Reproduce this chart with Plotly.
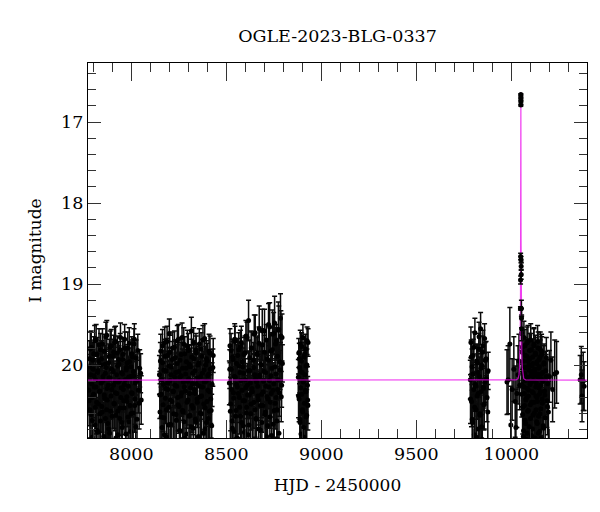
import plotly.graph_objects as go

# ---- data ----
s1_t = [7776, 7779, 7782, 7786, 7789, 7792, 7795, 7799, 7802, 7805,
        7809, 7812, 7815, 7818, 7822, 7825, 7828, 7832, 7835, 7838,
        7841, 7845, 7848, 7851, 7855, 7858, 7861, 7864, 7868, 7871,
        7874, 7878, 7881, 7884, 7887, 7891, 7894, 7897, 7901, 7904,
        7907, 7910, 7914, 7917, 7920, 7924, 7927, 7930, 7933, 7937,
        7940, 7943, 7947, 7950, 7953, 7956, 7960, 7963, 7966, 7970,
        7973, 7976, 7979, 7983, 7986, 7989, 7993, 7996, 7999, 8002,
        8006, 8009, 8012, 8016, 8019, 8023, 8028, 8034, 8041, 8049,
        7778, 7780, 7784, 7787, 7791, 7794, 7797, 7801, 7804, 7807,
        7811, 7814, 7817, 7820, 7824, 7827, 7830, 7834, 7837, 7840,
        7843, 7847, 7850, 7853, 7857, 7860, 7863, 7866, 7870, 7873,
        7876, 7880, 7883, 7886, 7889, 7893, 7896, 7899, 7903, 7906,
        7909, 7912, 7916, 7919, 7922, 7926, 7929, 7932, 7935, 7939,
        7942, 7945, 7949, 7952, 7955, 7958, 7962, 7965, 7968, 7972,
        7975, 7978, 7981, 7985, 7988, 7991, 7995, 7998, 8001, 8004,
        8008, 8011, 8014, 8018, 8021, 8025, 8030, 8037, 8044, 8052]
s1_m = [20.31, 19.92, 20.55, 20.12, 19.78, 20.40, 20.68, 20.05, 19.86, 20.27,
        20.74, 20.18, 19.69, 20.46, 20.09, 20.83, 19.95, 20.33, 20.60, 19.81,
        20.22, 20.51, 19.74, 20.14, 20.88, 20.37, 19.99, 20.66, 20.03, 19.63,
        20.43, 20.25, 20.79, 19.89, 20.16, 20.57, 19.76, 20.30, 20.95, 20.08,
        19.84, 20.48, 20.21, 19.71, 20.62, 20.35, 20.01, 20.86, 19.93, 20.19,
        20.53, 19.66, 20.28, 20.71, 20.11, 19.87, 20.44, 20.24, 19.79, 20.98,
        20.06, 20.39, 19.97, 20.64, 20.15, 19.73, 20.50, 20.82, 20.02, 20.34,
        19.90, 20.59, 20.13, 19.68, 20.42, 20.76, 20.20, 19.82, 20.47, 20.10,
        20.44, 20.02, 19.80, 20.61, 20.23, 20.89, 19.94, 20.36, 20.13, 19.70,
        20.52, 20.27, 20.80, 19.87, 20.07, 20.48, 19.75, 20.32, 20.69, 20.00,
        19.92, 20.58, 20.19, 20.93, 19.83, 20.41, 20.10, 19.65, 20.55, 20.29,
        20.72, 19.97, 20.16, 20.84, 19.78, 20.38, 20.05, 20.63, 19.89, 20.25,
        20.47, 19.72, 20.34, 20.90, 20.12, 19.85, 20.57, 20.21, 19.99, 20.66,
        19.81, 20.40, 20.09, 20.77, 19.93, 20.30, 20.53, 19.68, 20.18, 20.85,
        20.03, 20.45, 19.79, 20.26, 20.70, 19.96, 20.14, 20.60, 19.86, 20.35,
        20.96, 20.08, 19.74, 20.50, 20.22, 19.91, 20.67, 20.31, 20.04, 20.43]
s1_e = [0.28, 0.22, 0.35, 0.25, 0.20, 0.31, 0.38, 0.24, 0.21, 0.27,
        0.40, 0.26, 0.19, 0.33, 0.24, 0.41, 0.22, 0.29, 0.36, 0.20,
        0.26, 0.32, 0.19, 0.25, 0.42, 0.30, 0.23, 0.37, 0.24, 0.18,
        0.31, 0.27, 0.39, 0.21, 0.25, 0.34, 0.20, 0.28, 0.43, 0.24,
        0.21, 0.33, 0.26, 0.19, 0.36, 0.29, 0.23, 0.41, 0.22, 0.26,
        0.34, 0.18, 0.28, 0.38, 0.25, 0.21, 0.32, 0.27, 0.20, 0.44,
        0.24, 0.30, 0.22, 0.37, 0.25, 0.19, 0.33, 0.40, 0.23, 0.29,
        0.21, 0.35, 0.25, 0.19, 0.31, 0.39, 0.26, 0.20, 0.32, 0.24,
        0.31, 0.24, 0.21, 0.36, 0.26, 0.42, 0.22, 0.29, 0.25, 0.19,
        0.33, 0.27, 0.40, 0.21, 0.24, 0.32, 0.20, 0.28, 0.38, 0.23,
        0.22, 0.35, 0.25, 0.44, 0.21, 0.30, 0.24, 0.18, 0.34, 0.28,
        0.39, 0.23, 0.25, 0.41, 0.20, 0.29, 0.24, 0.36, 0.21, 0.27,
        0.31, 0.19, 0.29, 0.43, 0.25, 0.21, 0.34, 0.26, 0.23, 0.37,
        0.20, 0.30, 0.24, 0.40, 0.22, 0.28, 0.33, 0.18, 0.25, 0.42,
        0.23, 0.31, 0.20, 0.27, 0.38, 0.22, 0.25, 0.35, 0.21, 0.29,
        0.45, 0.24, 0.19, 0.33, 0.26, 0.22, 0.37, 0.28, 0.23, 0.30]

s2_t = [8148, 8151, 8155, 8158, 8162, 8165, 8169, 8172, 8176, 8179,
        8183, 8186, 8190, 8193, 8197, 8200, 8204, 8207, 8211, 8214,
        8218, 8221, 8225, 8228, 8232, 8235, 8239, 8242, 8246, 8249,
        8253, 8256, 8260, 8263, 8267, 8270, 8274, 8277, 8281, 8284,
        8288, 8291, 8295, 8298, 8302, 8305, 8309, 8312, 8316, 8319,
        8323, 8326, 8330, 8333, 8337, 8340, 8344, 8347, 8351, 8354,
        8358, 8361, 8365, 8368, 8372, 8375, 8379, 8382, 8386, 8389,
        8393, 8396, 8400, 8403, 8407, 8410, 8414, 8418, 8423, 8429,
        8150, 8153, 8157, 8160, 8164, 8167, 8171, 8174, 8178, 8181,
        8185, 8188, 8192, 8195, 8199, 8202, 8206, 8209, 8213, 8216,
        8220, 8223, 8227, 8230, 8234, 8237, 8241, 8244, 8248, 8251,
        8255, 8258, 8262, 8265, 8269, 8272, 8276, 8279, 8283, 8286,
        8290, 8293, 8297, 8300, 8304, 8307, 8311, 8314, 8318, 8321,
        8325, 8328, 8332, 8335, 8339, 8342, 8346, 8349, 8353, 8356,
        8360, 8363, 8367, 8370, 8374, 8377, 8381, 8384, 8388, 8391,
        8395, 8398, 8402, 8405, 8409, 8412, 8416, 8420, 8425, 8431]
s2_m = [20.12, 20.58, 19.83, 20.36, 20.77, 19.97, 20.24, 20.65, 19.72, 20.41,
        20.07, 20.89, 19.88, 20.30, 20.52, 19.61, 20.19, 20.73, 20.02, 20.45,
        19.79, 20.33, 20.94, 20.15, 19.91, 20.61, 20.26, 19.70, 20.49, 20.08,
        20.81, 19.94, 20.38, 20.13, 19.66, 20.56, 20.21, 20.70, 19.86, 20.32,
        20.04, 20.85, 19.77, 20.43, 20.17, 19.99, 20.62, 20.28, 19.58, 20.50,
        20.10, 20.78, 19.92, 20.35, 20.67, 19.81, 20.23, 20.46, 20.00, 20.92,
        19.74, 20.39, 20.14, 20.60, 19.89, 20.27, 20.84, 20.06, 19.67, 20.53,
        20.20, 20.71, 19.95, 20.31, 20.11, 20.57, 19.85, 20.42, 20.75, 20.03,
        20.37, 19.95, 20.64, 20.18, 19.76, 20.49, 20.06, 20.86, 19.89, 20.29,
        20.55, 19.71, 20.22, 20.74, 20.01, 19.84, 20.43, 20.12, 20.97, 19.93,
        20.32, 20.60, 19.78, 20.25, 20.09, 20.68, 19.98, 20.40, 19.68, 20.51,
        20.15, 20.81, 19.87, 20.34, 20.04, 20.58, 19.74, 20.27, 20.90, 20.11,
        19.96, 20.46, 20.20, 19.82, 20.63, 20.35, 20.02, 20.76, 19.90, 20.23,
        20.53, 19.73, 20.30, 20.07, 20.70, 19.85, 20.42, 20.16, 20.88, 19.97,
        20.26, 20.59, 19.80, 20.38, 20.10, 19.69, 20.48, 20.21, 20.79, 20.00,
        19.92, 20.45, 20.13, 20.66, 19.83, 20.33, 20.05, 20.56, 20.24, 19.88]
s2_e = [0.24, 0.35, 0.21, 0.29, 0.39, 0.22, 0.26, 0.37, 0.19, 0.31,
        0.24, 0.43, 0.21, 0.28, 0.33, 0.18, 0.25, 0.38, 0.23, 0.31,
        0.20, 0.29, 0.44, 0.25, 0.22, 0.36, 0.27, 0.19, 0.32, 0.24,
        0.40, 0.22, 0.30, 0.25, 0.18, 0.34, 0.26, 0.38, 0.21, 0.29,
        0.23, 0.41, 0.20, 0.31, 0.25, 0.23, 0.36, 0.28, 0.17, 0.33,
        0.24, 0.39, 0.22, 0.29, 0.37, 0.20, 0.26, 0.31, 0.23, 0.43,
        0.19, 0.30, 0.24, 0.35, 0.21, 0.27, 0.41, 0.23, 0.18, 0.33,
        0.25, 0.38, 0.22, 0.28, 0.24, 0.34, 0.21, 0.30, 0.39, 0.23,
        0.29, 0.23, 0.37, 0.26, 0.20, 0.33, 0.24, 0.42, 0.21, 0.28,
        0.34, 0.19, 0.26, 0.39, 0.23, 0.21, 0.31, 0.25, 0.45, 0.22,
        0.28, 0.36, 0.20, 0.27, 0.24, 0.38, 0.23, 0.30, 0.18, 0.33,
        0.25, 0.41, 0.21, 0.29, 0.24, 0.35, 0.20, 0.27, 0.43, 0.25,
        0.22, 0.32, 0.26, 0.21, 0.37, 0.29, 0.23, 0.40, 0.22, 0.26,
        0.33, 0.19, 0.28, 0.24, 0.38, 0.21, 0.31, 0.25, 0.42, 0.23,
        0.27, 0.35, 0.20, 0.29, 0.24, 0.18, 0.32, 0.26, 0.40, 0.23,
        0.22, 0.31, 0.25, 0.37, 0.21, 0.28, 0.24, 0.34, 0.27, 0.21]

s3_t = [8516, 8519, 8523, 8526, 8530, 8533, 8537, 8540, 8544, 8547,
        8551, 8554, 8558, 8561, 8565, 8568, 8572, 8575, 8579, 8582,
        8586, 8589, 8593, 8596, 8600, 8603, 8607, 8610, 8614, 8617,
        8621, 8624, 8628, 8631, 8635, 8638, 8642, 8645, 8649, 8652,
        8656, 8659, 8663, 8666, 8670, 8673, 8677, 8680, 8684, 8687,
        8691, 8694, 8698, 8701, 8705, 8708, 8712, 8715, 8719, 8722,
        8726, 8729, 8733, 8736, 8740, 8743, 8747, 8750, 8754, 8757,
        8761, 8764, 8767, 8770, 8774, 8777, 8781, 8785, 8789, 8793,
        8518, 8521, 8525, 8528, 8532, 8535, 8539, 8542, 8546, 8549,
        8553, 8556, 8560, 8563, 8567, 8570, 8574, 8577, 8581, 8584,
        8588, 8591, 8595, 8598, 8602, 8605, 8609, 8612, 8616, 8619,
        8623, 8626, 8630, 8633, 8637, 8640, 8644, 8647, 8651, 8654,
        8658, 8661, 8665, 8668, 8672, 8675, 8679, 8682, 8686, 8689,
        8693, 8696, 8700, 8703, 8707, 8710, 8714, 8717, 8721, 8724,
        8728, 8731, 8735, 8738, 8742, 8745, 8749, 8752, 8756, 8759,
        8762, 8766, 8769, 8772, 8776, 8779, 8783, 8787, 8791, 8795]
s3_m = [20.22, 19.76, 20.48, 20.05, 20.69, 19.90, 20.34, 20.82, 19.68, 20.15,
        20.56, 19.98, 20.27, 20.91, 19.81, 20.40, 20.09, 20.63, 19.72, 20.31,
        20.02, 20.75, 19.87, 20.44, 20.18, 19.64, 20.52, 20.25, 20.86, 19.45,
        20.37, 20.07, 20.60, 19.79, 20.29, 20.96, 19.94, 20.46, 20.12, 19.60,
        20.66, 20.21, 19.85, 20.38, 20.79, 19.55, 20.14, 20.50, 20.00, 20.71,
        19.75, 20.33, 20.08, 19.58, 20.58, 20.26, 20.88, 19.92, 20.42, 19.50,
        20.19, 20.64, 19.83, 20.35, 20.04, 19.62, 20.73, 20.23, 19.48, 20.47,
        20.11, 19.70, 20.55, 20.30, 19.57, 20.84, 19.96, 19.42, 20.39, 19.66,
        20.05, 20.57, 19.82, 20.30, 20.78, 19.93, 20.41, 20.14, 19.71, 20.63,
        20.24, 20.90, 19.88, 20.35, 20.01, 20.52, 19.77, 20.19, 20.71, 19.96,
        20.44, 20.10, 20.83, 19.85, 20.28, 20.59, 19.66, 20.37, 20.07, 20.74,
        19.91, 20.22, 20.48, 19.79, 20.33, 20.94, 20.03, 19.62, 20.55, 20.17,
        20.67, 19.87, 20.26, 20.43, 19.73, 20.12, 20.80, 19.99, 20.36, 19.58,
        20.50, 20.20, 19.84, 20.61, 20.09, 19.69, 20.39, 20.75, 19.94, 20.27,
        19.53, 20.46, 20.13, 20.87, 19.81, 20.31, 19.61, 20.56, 20.02, 19.74,
        20.40, 20.69, 19.89, 20.18, 19.56, 20.34, 20.06, 19.64, 20.25, 19.98]
s3_e = [0.27, 0.21, 0.33, 0.24, 0.37, 0.22, 0.29, 0.41, 0.19, 0.25,
        0.34, 0.23, 0.27, 0.44, 0.21, 0.31, 0.24, 0.36, 0.20, 0.28,
        0.23, 0.39, 0.21, 0.31, 0.26, 0.19, 0.33, 0.27, 0.42, 0.25,
        0.29, 0.24, 0.35, 0.21, 0.28, 0.45, 0.22, 0.32, 0.25, 0.22,
        0.37, 0.26, 0.21, 0.30, 0.40, 0.28, 0.25, 0.33, 0.23, 0.38,
        0.20, 0.29, 0.24, 0.27, 0.35, 0.27, 0.43, 0.22, 0.31, 0.26,
        0.25, 0.36, 0.21, 0.29, 0.23, 0.30, 0.39, 0.26, 0.33, 0.32,
        0.25, 0.20, 0.34, 0.28, 0.35, 0.42, 0.22, 0.30, 0.31, 0.29,
        0.24, 0.34, 0.21, 0.28, 0.40, 0.22, 0.30, 0.25, 0.19, 0.36,
        0.26, 0.44, 0.21, 0.29, 0.23, 0.33, 0.20, 0.25, 0.38, 0.22,
        0.31, 0.24, 0.41, 0.21, 0.27, 0.35, 0.19, 0.29, 0.24, 0.39,
        0.22, 0.26, 0.32, 0.20, 0.28, 0.46, 0.23, 0.24, 0.34, 0.25,
        0.37, 0.21, 0.27, 0.31, 0.20, 0.25, 0.41, 0.23, 0.29, 0.27,
        0.33, 0.26, 0.21, 0.36, 0.24, 0.19, 0.30, 0.39, 0.22, 0.27,
        0.30, 0.32, 0.25, 0.43, 0.21, 0.28, 0.26, 0.34, 0.23, 0.20,
        0.30, 0.37, 0.22, 0.25, 0.29, 0.29, 0.24, 0.31, 0.27, 0.23]

s4_t = [8879, 8881, 8883, 8885, 8887, 8889, 8891, 8893, 8895, 8897, 8899, 8901, 8903,
        8905, 8907, 8909, 8911, 8913, 8915, 8917, 8919, 8921, 8923, 8925, 8927, 8929,
        8880, 8884, 8888, 8892, 8896, 8900, 8904, 8908, 8912, 8916, 8920, 8924, 8928, 8930]
s4_m = [20.15, 19.85, 20.42, 20.03, 20.67, 19.74, 20.28, 20.85, 19.95, 20.36, 20.09, 20.58, 19.66,
        20.21, 20.77, 19.90, 20.47, 20.12, 20.94, 19.80, 20.33, 20.01, 20.62, 19.70, 20.25, 20.50,
        20.38, 19.92, 20.71, 20.08, 19.77, 20.55, 20.19, 20.89, 19.86, 20.31, 20.64, 20.00, 20.43, 19.72]
s4_e = [0.22, 0.18, 0.28, 0.20, 0.33, 0.17, 0.24, 0.37, 0.19, 0.26, 0.21, 0.31, 0.16,
        0.23, 0.35, 0.18, 0.29, 0.22, 0.40, 0.18, 0.25, 0.20, 0.32, 0.17, 0.23, 0.30,
        0.27, 0.19, 0.36, 0.21, 0.17, 0.32, 0.23, 0.41, 0.18, 0.26, 0.34, 0.20, 0.29, 0.17]

s5_t = [9784, 9787, 9790, 9793, 9796, 9799, 9802, 9805, 9808, 9811, 9814, 9817, 9820, 9823, 9826,
        9829, 9832, 9835, 9838, 9841, 9844, 9847, 9850, 9853, 9856, 9859, 9863, 9867, 9872, 9878,
        9785, 9789, 9794, 9798, 9803, 9807, 9812, 9816, 9821, 9825,
        9830, 9834, 9839, 9843, 9848, 9852, 9857, 9862, 9869, 9876]
s5_m = [20.18, 19.72, 20.45, 20.02, 20.71, 19.88, 20.30, 20.86, 19.60, 20.24, 20.55, 19.95, 20.38, 20.09, 20.79,
        19.80, 20.14, 20.62, 19.55, 20.33, 20.00, 20.92, 19.76, 20.27, 20.49, 19.67, 20.21, 19.92, 20.40, 20.07,
        20.42, 19.90, 20.67, 20.11, 19.78, 20.52, 20.26, 20.89, 19.97, 20.35,
        19.65, 20.60, 20.04, 20.76, 19.84, 20.29, 20.48, 19.94, 20.17, 20.58]
s5_e = [0.24, 0.19, 0.31, 0.22, 0.37, 0.20, 0.27, 0.41, 0.18, 0.25, 0.33, 0.21, 0.29, 0.23, 0.39,
        0.19, 0.24, 0.35, 0.20, 0.28, 0.22, 0.44, 0.19, 0.26, 0.31, 0.18, 0.25, 0.21, 0.30, 0.23,
        0.30, 0.21, 0.36, 0.24, 0.19, 0.33, 0.26, 0.42, 0.22, 0.28,
        0.18, 0.35, 0.23, 0.39, 0.20, 0.27, 0.31, 0.22, 0.25, 0.34]

pre_t = [9977, 9983, 9992, 9997, 10004, 10013, 10020, 10024, 10029, 10035, 10040, 10044]
pre_m = [20.21, 20.18, 19.74, 20.74, 20.30, 20.05, 20.45, 20.77, 20.35, 20.12, 19.95, 20.25]
pre_e = [0.40, 0.42, 0.45, 0.48, 0.38, 0.40, 0.44, 0.47, 0.42, 0.36, 0.33, 0.30]

ev_t = [10047.8, 10048.3, 10048.7, 10049.9, 10050.0, 10050.1, 10050.0,
        10051.2, 10051.5, 10052.0, 10052.8, 10053.3, 10053.9]
ev_m = [19.30, 18.95, 18.66, 16.66, 16.70, 16.74, 16.79,
        18.70, 18.78, 18.88, 19.30, 19.42, 19.55]
ev_e = [0.02, 0.05, 0.04, 0.01, 0.01, 0.01, 0.01,
        0.04, 0.05, 0.06, 0.10, 0.12, 0.15]

s6_t = [10054, 10056, 10058, 10060, 10062, 10064, 10066, 10068, 10070, 10072,
        10074, 10076, 10078, 10080, 10082, 10084, 10086, 10088, 10090, 10092,
        10094, 10096, 10098, 10100, 10102, 10104, 10106, 10108, 10110, 10112,
        10114, 10116, 10118, 10120, 10122, 10124, 10126, 10128, 10130, 10132,
        10134, 10136, 10138, 10140, 10142, 10144, 10146, 10148, 10150, 10152,
        10154, 10156, 10158, 10160, 10163, 10166, 10169, 10172, 10175, 10178,
        10181, 10184, 10187, 10191, 10195, 10200, 10208, 10217, 10228, 10238,
        10055, 10057, 10059, 10061, 10063, 10065, 10067, 10069, 10071, 10073,
        10075, 10077, 10079, 10081, 10083, 10085, 10087, 10089, 10091, 10093,
        10095, 10097, 10099, 10101, 10103, 10105, 10107, 10109, 10111, 10113,
        10115, 10117, 10119, 10121, 10123, 10125, 10127, 10129, 10131, 10133,
        10135, 10137, 10139, 10141, 10143, 10145, 10147, 10149, 10151, 10153,
        10155, 10157, 10159, 10162, 10165, 10168, 10171, 10176, 10183, 10190]
s6_m = [19.60, 20.24, 19.78, 20.52, 20.03, 20.81, 19.66, 20.35, 20.10, 20.68,
        19.88, 20.43, 20.17, 20.92, 19.73, 20.29, 20.57, 19.95, 20.38, 20.06,
        20.76, 19.82, 20.22, 20.49, 19.69, 20.13, 20.87, 20.01, 20.33, 19.90,
        20.62, 20.19, 19.76, 20.46, 20.08, 20.97, 19.85, 20.27, 20.55, 19.98,
        20.40, 20.72, 19.71, 20.15, 20.84, 20.04, 19.93, 20.36, 20.60, 19.80,
        20.25, 20.90, 20.11, 19.87, 20.47, 20.20, 20.78, 19.97, 20.32, 20.65,
        20.07, 19.91, 20.44, 20.23, 20.58, 20.14, 19.94, 20.30, 20.11, 20.09,
        20.36, 19.84, 20.61, 20.10, 20.88, 19.95, 20.27, 20.50, 19.76, 20.19,
        20.72, 20.03, 20.41, 19.89, 20.84, 20.15, 19.70, 20.56, 20.31, 20.00,
        20.93, 19.92, 20.24, 20.66, 20.08, 19.81, 20.46, 20.20, 20.79, 19.98,
        20.34, 20.13, 19.74, 20.59, 20.05, 20.90, 19.87, 20.38, 20.22, 20.70,
        19.96, 20.45, 20.11, 19.79, 20.63, 20.28, 20.02, 20.82, 19.90, 20.33,
        20.54, 20.17, 19.83, 20.42, 20.09, 20.75, 19.99, 20.37, 20.14, 20.51]
s6_e = [0.22, 0.27, 0.21, 0.33, 0.24, 0.40, 0.20, 0.29, 0.25, 0.37,
        0.22, 0.31, 0.25, 0.45, 0.20, 0.28, 0.34, 0.23, 0.30, 0.24,
        0.39, 0.21, 0.27, 0.32, 0.20, 0.25, 0.43, 0.24, 0.29, 0.22,
        0.36, 0.26, 0.21, 0.31, 0.25, 0.46, 0.22, 0.28, 0.34, 0.23,
        0.30, 0.38, 0.20, 0.25, 0.42, 0.24, 0.22, 0.29, 0.35, 0.21,
        0.27, 0.44, 0.25, 0.22, 0.32, 0.26, 0.40, 0.23, 0.29, 0.37,
        0.24, 0.25, 0.33, 0.30, 0.38, 0.32, 0.35, 0.40, 0.42, 0.38,
        0.28, 0.21, 0.36, 0.25, 0.44, 0.22, 0.27, 0.33, 0.20, 0.26,
        0.39, 0.23, 0.30, 0.21, 0.42, 0.25, 0.19, 0.34, 0.28, 0.23,
        0.46, 0.22, 0.27, 0.37, 0.24, 0.20, 0.31, 0.26, 0.41, 0.22,
        0.29, 0.25, 0.20, 0.35, 0.24, 0.45, 0.21, 0.30, 0.26, 0.38,
        0.22, 0.31, 0.25, 0.20, 0.36, 0.28, 0.23, 0.42, 0.21, 0.29,
        0.33, 0.26, 0.21, 0.31, 0.25, 0.40, 0.23, 0.30, 0.27, 0.35]

s7_t = [10362, 10368, 10372, 10378, 10383]
s7_m = [20.18, 20.12, 20.38, 20.20, 20.26]
s7_e = [0.30, 0.35, 0.32, 0.36, 0.30]

# model light curve
model_t = [7772, 10025, 10035, 10040, 10043, 10045, 10046, 10047, 10048, 10048.5,
           10049, 10049.25, 10049.5, 10049.75, 10050, 10050.25, 10050.5, 10050.75,
           10051, 10051.5, 10052, 10053, 10054, 10055, 10057, 10060, 10065, 10075, 10398]
model_m = [20.185, 20.182, 20.167, 20.121, 20.025, 19.866, 19.723, 19.499, 19.132, 18.850,
           18.440, 18.149, 17.754, 17.178, 16.634, 17.178, 17.754, 18.149,
           18.440, 18.850, 19.132, 19.499, 19.723, 19.866, 20.025, 20.121, 20.167, 20.182, 20.185]

x_ticks = [8000, 8500, 9000, 9500, 10000]
x_labels = ["8000", "8500", "9000", "9500", "10000"]
y_ticks = [17, 18, 19, 20]
y_labels = ["17", "18", "19", "20"]

t_base = s1_t + s2_t + s3_t + s4_t + s5_t + pre_t + s6_t + s7_t
m_base = s1_m + s2_m + s3_m + s4_m + s5_m + pre_m + s6_m + s7_m
e_base = s1_e + s2_e + s3_e + s4_e + s5_e + pre_e + s6_e + s7_e

FONT = "DejaVu Serif"
ERR = dict(type="data", visible=True, color="#0a0a0a", thickness=1.5, width=2.5)

fig = go.Figure()
fig.add_trace(go.Scatter(
    x=t_base, y=m_base, mode="markers",
    marker=dict(color="black", size=5, line=dict(width=0)),
    error_y=dict(array=e_base, **ERR),
    showlegend=False,
))
fig.add_trace(go.Scatter(
    x=model_t, y=model_m, mode="lines",
    line=dict(color="rgba(235,0,235,0.75)", width=1.2),
    showlegend=False,
))
fig.add_trace(go.Scatter(
    x=ev_t, y=ev_m, mode="markers",
    marker=dict(color="black", size=5, line=dict(width=0)),
    error_y=dict(array=ev_e, **ERR),
    showlegend=False,
))

axis_common = dict(
    showgrid=False, zeroline=False, showline=True, linecolor="black", linewidth=1.3,
    mirror="allticks", ticks="inside", tickcolor="#333", tickwidth=1,
    tickfont=dict(family=FONT, size=17.5, color="black"),
    automargin=False,
)
fig.update_xaxes(
    range=[7772, 10398], tickvals=x_ticks, ticktext=x_labels, ticklen=18,
    minor=dict(dtick=100, tick0=0, ticks="inside", ticklen=9, tickcolor="#333", tickwidth=1),
    title=dict(text="HJD - 2450000", font=dict(family=FONT, size=17, color="black")),
    **axis_common,
)
fig.update_yaxes(
    range=[20.90, 16.27], tickvals=y_ticks, ticktext=y_labels, ticklen=13,
    minor=dict(dtick=0.2, tick0=0, ticks="inside", ticklen=8, tickcolor="#333", tickwidth=1),
    title=dict(text="I magnitude", font=dict(family=FONT, size=17, color="black")),
    **axis_common,
)
# the page body adds an 8 px offset, so margins are reduced by 8 px on the left/top
fig.update_layout(
    width=600, height=512,
    margin=dict(l=80, r=21, t=55, b=82),
    paper_bgcolor="white", plot_bgcolor="white",
    title=dict(text="OGLE-2023-BLG-0337", x=0.5, xref="paper", xanchor="center",
               y=0.945, yanchor="middle", yref="container",
               font=dict(family=FONT, size=17.5, color="black")),
)
fig.write_html("out.html")
